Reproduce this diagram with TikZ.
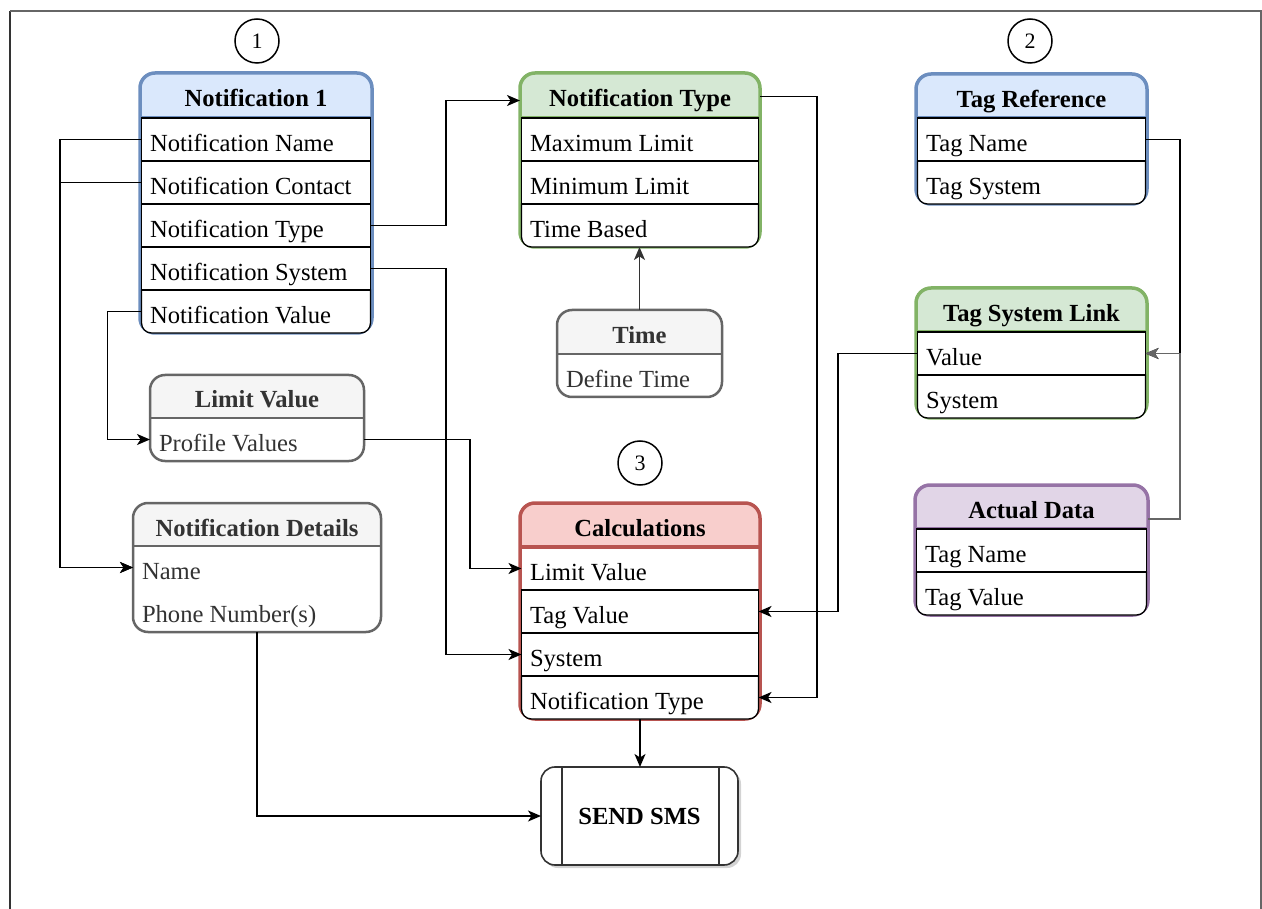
\documentclass[tikz,border=0pt]{standalone}
\usepackage{fontspec}
\setmainfont{Liberation Serif}
\usetikzlibrary{arrows.meta,shadows,calc}
\pgfdeclarelayer{bg}
\pgfdeclarelayer{mid}
\pgfsetlayers{bg,mid,main}

\definecolor{blueS}{HTML}{6C8EBF}\definecolor{blueF}{HTML}{DAE8FC}
\definecolor{greenS}{HTML}{82B366}\definecolor{greenF}{HTML}{D5E8D4}
\definecolor{redS}{HTML}{B85450}\definecolor{redF}{HTML}{F8CECC}
\definecolor{purpS}{HTML}{9673A6}\definecolor{purpF}{HTML}{E1D5E7}
\definecolor{grayS}{HTML}{666666}\definecolor{grayF}{HTML}{F5F5F5}
\definecolor{grayT}{HTML}{333333}

% outer frame of an entity: white body, coloured header, coloured rounded border
\newcommand\entframe[5]{%
  \begin{pgfonlayer}{bg}
    \fill[white,rounded corners=15pt] (#1.north west) rectangle (#2.south -| #1.east);
    \fill[#4] (#1.south west) -- ([yshift=-15pt]#1.north west)
      arc[start angle=180,end angle=90,radius=15pt] -- ([xshift=-15pt]#1.north east)
      arc[start angle=90,end angle=0,radius=15pt] -- (#1.south east) -- cycle;
    \draw[#3,line width=#5] (#1.south west) -- (#1.south east);
    \draw[#3,line width=#5,rounded corners=15pt] (#1.north west) rectangle (#2.south -| #1.east);
  \end{pgfonlayer}}

% bottom row of an entity, with rounded lower corners
\newcommand\lastrow[1]{%
  \begin{pgfonlayer}{mid}
    \filldraw[fill=white,draw=black,line width=1.3pt] (#1.north west)
      -- ([yshift=10pt]#1.south west) arc[start angle=180,end angle=270,radius=10pt]
      -- ([xshift=-10pt]#1.south east) arc[start angle=270,end angle=360,radius=10pt]
      -- (#1.north east) -- cycle;
  \end{pgfonlayer}}

\tikzset{
  every node/.style={outer sep=0pt},
  hdr/.style={rectangle,anchor=north west,inner sep=0pt,text height=24pt,text depth=1pt,font=\bfseries},
  ghdr/.style={hdr,text=grayT},
  row/.style={rectangle,anchor=north west,inner xsep=8.5pt,inner ysep=0pt,minimum height=43pt,
    text height=25pt,text depth=1pt,align=flush left,text width=#1},
  rowbox/.style={row=#1,draw=black,fill=white,line width=1.3pt},
  grow/.style={row=#1,inner xsep=9pt,text=grayT},
  conn/.style={draw=black,line width=1.6pt,-{Stealth[length=13pt,width=11pt,inset=3.5pt]}},
  num/.style={circle,draw=black,line width=1.5pt,minimum size=44pt,inner sep=0pt,
    font=\fontsize{22}{26}\selectfont},
  smsbox/.style={rectangle,rounded corners=14pt,draw=grayT,line width=1.6pt,fill=white,
    minimum width=197pt,minimum height=98pt,font=\bfseries,
    drop shadow={shadow xshift=3pt,shadow yshift=-3pt,opacity=0.35}}
}

\begin{document}
\fontsize{24.6}{29}\selectfont
\begin{tikzpicture}[x=1pt,y=1pt]
\useasboundingbox (0,0) rectangle (1262,-909);

% page frame
\draw[line width=2.5pt,color=grayT] (10,-909) -- (10,-11);
\draw[line width=2.5pt,color=grayS] (10,-11) -- (1261,-11) -- (1261,-909);

% step numbers
\node[num] (c1) at (257,-41) {1};
\node[num] (c2) at (1030,-41) {2};
\node[num] (c3) at (640,-463) {3};

% Notification 1
\node[hdr,minimum width=232pt,minimum height=45pt] (n1) at (140,-73) {Notification 1};
\node[rowbox=212pt] (n1a) at (141.5,-118) {Notification Name};
\node[rowbox=212pt] (n1b) at (141.5,-161) {Notification Contact};
\node[rowbox=212pt] (n1c) at (141.5,-204) {Notification Type};
\node[rowbox=212pt] (n1d) at (141.5,-247) {Notification System};
\node[row=212pt] (n1e) at (141.5,-290) {Notification Value};
\entframe{n1}{n1e}{blueS}{blueF}{3.5pt}
\lastrow{n1e}

% Notification Type
\node[hdr,minimum width=240pt,minimum height=45pt] (nt) at (520,-73) {Notification Type};
\node[rowbox=220pt] (nta) at (521.5,-118) {Maximum Limit};
\node[rowbox=220pt] (ntb) at (521.5,-161) {Minimum Limit};
\node[row=220pt] (ntc) at (521.5,-204) {Time Based};
\entframe{nt}{ntc}{greenS}{greenF}{3.5pt}
\lastrow{ntc}

% Tag Reference
\node[hdr,minimum width=231pt,minimum height=44pt] (tr) at (916,-74) {Tag Reference};
\node[rowbox=211pt] (tra) at (917.5,-118) {Tag Name};
\node[row=211pt] (trb) at (917.5,-161) {Tag System};
\entframe{tr}{trb}{blueS}{blueF}{3.5pt}
\lastrow{trb}

% Tag System Link
\node[hdr,minimum width=231pt,minimum height=44pt] (ts) at (916,-288) {Tag System Link};
\node[rowbox=211pt] (tsa) at (917.5,-332) {Value};
\node[row=211pt] (tsb) at (917.5,-375) {System};
\entframe{ts}{tsb}{greenS}{greenF}{3.5pt}
\lastrow{tsb}

% Actual Data
\node[hdr,minimum width=233pt,minimum height=44pt] (ad) at (915,-485) {Actual Data};
\node[rowbox=213pt] (ada) at (916.5,-529) {Tag Name};
\node[row=213pt] (adb) at (916.5,-572) {Tag Value};
\entframe{ad}{adb}{purpS}{purpF}{3.5pt}
\lastrow{adb}

% Calculations
\node[hdr,minimum width=240pt,minimum height=44pt] (cc) at (520,-503) {Calculations};
\node[row=220pt] (ccl) at (521.5,-547) {Limit Value};
\node[rowbox=220pt] (cct) at (521.5,-590) {Tag Value};
\node[rowbox=220pt] (ccs) at (521.5,-633) {System};
\node[row=220pt] (ccn) at (521.5,-676) {Notification Type};
\entframe{cc}{ccn}{redS}{redF}{3.5pt}
\lastrow{ccn}

% Time
\node[ghdr,minimum width=165pt,minimum height=44pt] (tm) at (557,-310) {Time};
\node[grow=147pt] (tma) at (557,-354) {Define Time};
\entframe{tm}{tma}{grayS}{grayF}{2.5pt}

% Limit Value
\node[ghdr,minimum width=214pt,minimum height=43pt] (lv) at (150,-375) {Limit Value};
\node[grow=196pt] (lvr) at (150,-418) {Profile Values};
\entframe{lv}{lvr}{grayS}{grayF}{2.5pt}

% Notification Details
\node[ghdr,minimum width=248pt,minimum height=43pt] (nd) at (133,-503) {Notification Details};
\node[grow=230pt] (nd1) at (133,-546) {Name};
\node[grow=230pt] (nd2) at (133,-589) {Phone Number(s)};
\entframe{nd}{nd2}{grayS}{grayF}{2.5pt}

% SEND SMS process
\node[smsbox] (sms) at (639.5,-816) {SEND SMS};
\draw[grayT,line width=1.6pt] ([xshift=21pt]sms.north west) -- ([xshift=21pt]sms.south west);
\draw[grayT,line width=1.6pt] ([xshift=-19pt]sms.north east) -- ([xshift=-19pt]sms.south east);

% connectors
\draw[conn] (n1a.west) -- ++(-81.5,0) |- (nd1.west);
\draw[conn] (n1b.west) -- ++(-81.5,0) |- (nd1.west);
\draw[conn] (n1c.east) -- ++(75.5,0) |- ([yshift=-5pt]nt.west);
\draw[conn] (n1d.east) -- ++(75.5,0) |- (ccs.west);
\draw[conn] (n1e.west) -- ++(-34,0) |- (lvr.west);
\draw[conn] (lvr.east) -- ++(106,0) |- (ccl.west);
\draw[conn,draw=grayT] (tm.north) -- (tm.north |- ntc.south);
\draw[conn] ([yshift=-1pt]nt.east) -- ++(57,0) |- (ccn.east);
\draw[conn] (tra.east) -- ++(34.5,0) |- (tsa.east);
\draw[conn,draw=grayS] ([yshift=-12pt]ad.east) -- ++(32,0) |- (tsa.east);
\draw[conn] (tsa.west) -- ++(-79.5,0) |- (cct.east);
\draw[conn] (ccn.south) -- (ccn.south |- sms.north);
\draw[conn] (nd2.south) |- (sms.west);
\end{tikzpicture}
\end{document}
